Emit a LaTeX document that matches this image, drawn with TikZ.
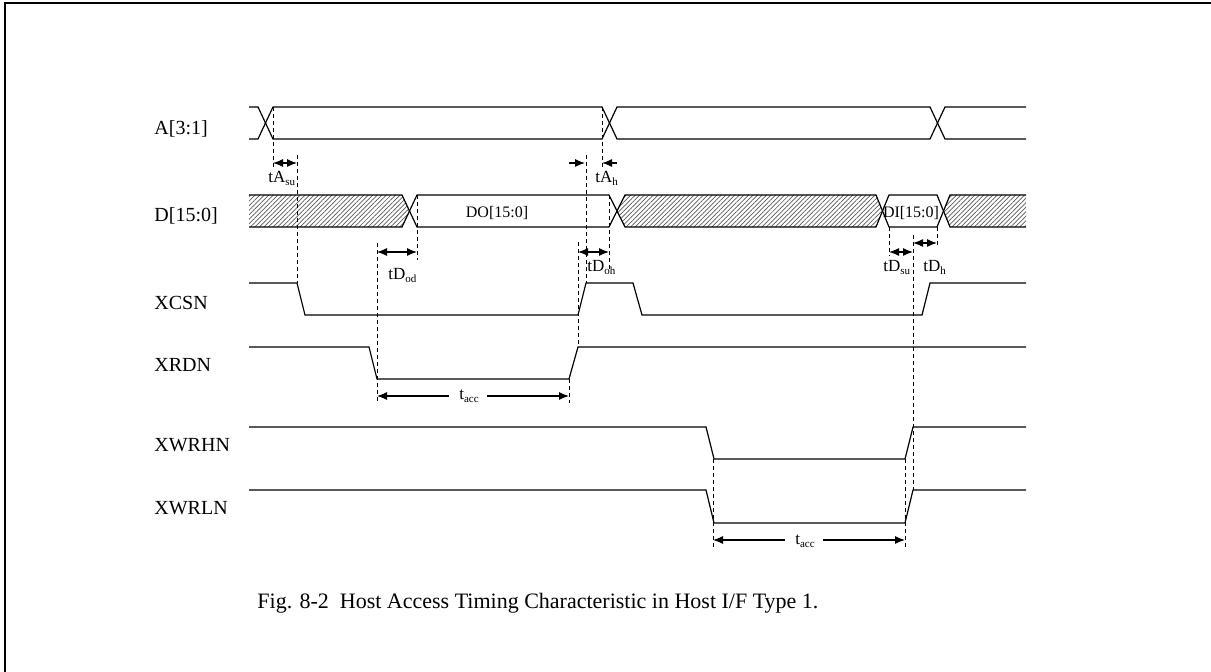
\documentclass[tikz,border=0pt]{standalone}
\usepackage{fontspec}
\setmainfont{Liberation Serif}
\usetikzlibrary{arrows.meta,patterns.meta}
\newcommand\lbsub[1]{\raisebox{-0.3ex}{\fontsize{5.5}{6}\selectfont #1}}
\begin{document}
\begin{tikzpicture}[x=0.5pt,y=-0.5pt,
  sig/.style={line width=0.6pt},
  dsh/.style={line width=0.5pt,dash pattern=on 2pt off 1.5pt},
  tip/.tip={Latex[length=5pt,width=4pt]},
  dim/.style={line width=0.6pt,tip-tip},
  dimr/.style={line width=0.6pt,-tip},
  hatch/.style={pattern={Lines[angle=45,distance=1.6pt,line width=0.35pt]},pattern color=black!65},
  siglabel/.style={anchor=base west,inner sep=0pt,font=\fontsize{10}{12}\selectfont},
  tlabel/.style={anchor=base west,inner sep=0pt,font=\fontsize{8.5}{10}\selectfont},
  datalabel/.style={anchor=base,inner sep=0pt,font=\fontsize{8}{10}\selectfont},
  caption/.style={anchor=base west,inner sep=0pt,font=\fontsize{11}{13}\selectfont}
]
\path[use as bounding box] (0,0) rectangle (1211,672);
% frame
\draw[line width=1pt] (5,672) -- (5,3) -- (1211,3);

% signal labels
\node[siglabel] (lA) at (154,135) {A[3:1]};
\node[siglabel] (lD) at (154,222) {D[15:0]};
\node[siglabel] (lCS) at (154,310) {XCSN};
\node[siglabel] (lRD) at (154,372) {XRDN};
\node[siglabel] (lWH) at (154,452) {XWRHN};
\node[siglabel] (lWL) at (154,515) {XWRLN};

% A[3:1]
\draw[sig] (249,107) -- (258,107) -- (273,139) -- (602,139) -- (617,107) -- (930,107) -- (945,139) -- (1026,139);
\draw[sig] (249,139) -- (258,139) -- (273,107) -- (602,107) -- (617,139) -- (930,139) -- (945,107) -- (1026,107);

% D[15:0]
\fill[hatch] (249,195) -- (402,195) -- (409.5,211) -- (402,227) -- (249,227) -- cycle;
\fill[hatch] (617,211) -- (625,195) -- (876,195) -- (882.5,211) -- (876,227) -- (625,227) -- cycle;
\fill[hatch] (943.5,211) -- (950,195) -- (1026,195) -- (1026,227) -- (950,227) -- cycle;
\draw[sig] (249,195) -- (402,195) -- (417,227) -- (609,227) -- (625,195) -- (876,195) -- (889,227) -- (937,227) -- (950,195) -- (1026,195);
\draw[sig] (249,227) -- (402,227) -- (417,195) -- (609,195) -- (625,227) -- (876,227) -- (889,195) -- (937,195) -- (950,227) -- (1026,227);
\node[datalabel] (dDO) at (497,218) {DO[15:0]};
\node[datalabel] (dDI) at (911,218) {DI[15:0]};

% XCSN
\draw[sig] (249,283) -- (297,283) -- (305,315) -- (578,315) -- (586,283) -- (633,283) -- (642,315) -- (922,315) -- (930,283) -- (1026,283);
% XRDN
\draw[sig] (249,347) -- (369,347) -- (377,379) -- (569,379) -- (578,347) -- (1026,347);
% XWRHN
\draw[sig] (249,427) -- (706,427) -- (714,459) -- (905,459) -- (913,427) -- (1026,427);
% XWRLN
\draw[sig] (249,490) -- (706,490) -- (714,523) -- (905,523) -- (913,490) -- (1026,490);

% dashed reference lines
\draw[dsh] (273,107) -- (273,170);
\draw[dsh] (297,155) -- (297,283);
\draw[dsh] (417,195) -- (417,260);
\draw[dsh] (377,243) -- (377,402);
\draw[dsh] (602,107) -- (602,168);
\draw[dsh] (609,195) -- (609,270);
\draw[dsh] (586,155) -- (586,283);
\draw[dsh] (578,242) -- (578,347);
\draw[dsh] (569,379) -- (569,403);
\draw[dsh] (889,227) -- (889,256);
\draw[dsh] (937,227) -- (937,248);
\draw[dsh] (913,235) -- (913,490);
\draw[dsh] (905,459) -- (905,547);
\draw[dsh] (713,459) -- (713,547);

% timing arrows
\coordinate (asu1) at (273,163); \coordinate (asu2) at (297,163);
\draw[dim] (asu1) -- (asu2);
\node[tlabel] (tasu) at (268,183) {tA\lbsub{su}};

\coordinate (ah1) at (569,163); \coordinate (ah2) at (585,163);
\coordinate (ah3) at (617,163); \coordinate (ah4) at (602,163);
\draw[dimr] (ah1) -- (ah2);
\draw[dimr] (ah3) -- (ah4);
\node[tlabel] (tah) at (595,183) {tA\lbsub{h}};

\coordinate (od1) at (377,252); \coordinate (od2) at (417,252);
\draw[dim] (od1) -- (od2);
\node[tlabel] (tdod) at (388,280) {tD\lbsub{od}};

\coordinate (oh1) at (578,252); \coordinate (oh2) at (609,252);
\draw[dim] (oh1) -- (oh2);
\node[tlabel] (tdoh) at (587,272) {tD\lbsub{oh}};

\coordinate (su1) at (889,252); \coordinate (su2) at (913,252);
\draw[dim] (su1) -- (su2);
\node[tlabel] (tdsu) at (883,272) {tD\lbsub{su}};

\coordinate (dh1) at (913,243); \coordinate (dh2) at (937,243);
\draw[dim] (dh1) -- (dh2);
\node[tlabel] (tdh) at (923,272) {tD\lbsub{h}};

% tacc (read)
\node[tlabel,anchor=base] (tacc1) at (469,400) {t\lbsub{acc}};
\coordinate (ra1) at (377,396); \coordinate (ra2) at (569,396);
\draw[dimr] (tacc1.west |- ra1) ++(-10,0) -- (ra1);
\draw[dimr] (tacc1.east |- ra2) ++(8,0) -- (ra2);

% tacc (write)
\node[tlabel,anchor=base] (tacc2) at (805,545) {t\lbsub{acc}};
\coordinate (wa1) at (713,540); \coordinate (wa2) at (905,540);
\draw[dimr] (tacc2.west |- wa1) ++(-10,0) -- (wa1);
\draw[dimr] (tacc2.east |- wa2) ++(8,0) -- (wa2);

% caption
\node[caption] (cap) at (257,609) {Fig. 8-2\ \ Host Access Timing Characteristic in Host I/F Type 1.};
\end{tikzpicture}
\end{document}
